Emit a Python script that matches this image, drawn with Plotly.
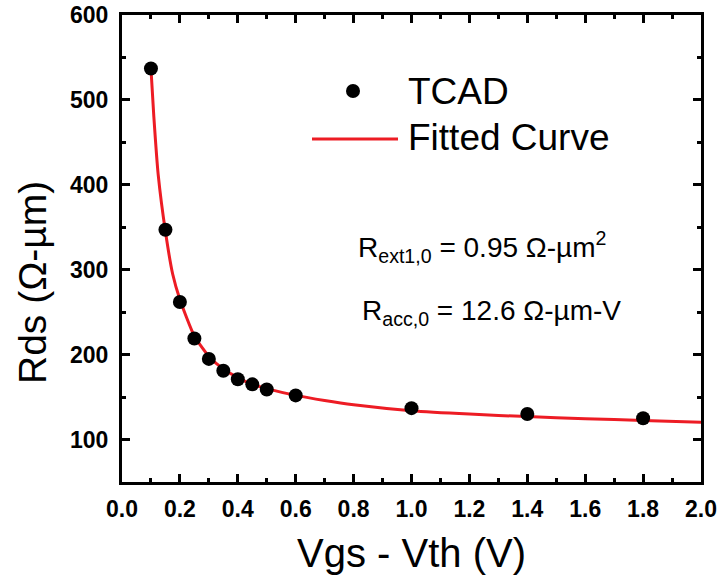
import plotly.graph_objects as go

# TCAD simulation points
vov_tcad = [0.1, 0.15, 0.2, 0.25, 0.3, 0.35, 0.4, 0.45, 0.5, 0.6, 1.0, 1.4, 1.8]
rds_tcad = [537, 347, 262, 219, 195, 181, 171, 165, 159, 152, 137, 130, 125]

# Fitted model curve samples
vov_fit = [0.1, 0.11, 0.125, 0.15, 0.175, 0.2, 0.25, 0.3, 0.35, 0.4, 0.45, 0.5,
           0.6, 0.7, 0.8, 1.0, 1.2, 1.4, 1.6, 1.8, 2.0]
rds_fit = [537, 480, 412, 345, 295, 265, 222, 198, 183, 173, 165, 160,
           152, 146, 141, 134, 130, 127, 124.5, 122.5, 120.5]

x_ticks = [0.0, 0.2, 0.4, 0.6, 0.8, 1.0, 1.2, 1.4, 1.6, 1.8, 2.0]
y_ticks = [100, 200, 300, 400, 500, 600]

FONT = "Liberation Sans, Arial, sans-serif"
RED = "#ed1c24"

W, H = 719, 580
ML, MR, MT, MB = 122, 18, 15, 98
PW, PH = W - ML - MR, H - MT - MB


def px(x):
    return (x - ML) / PW


def py(y):
    return (H - MB - y) / PH


fig = go.Figure()
fig.add_trace(go.Scatter(
    x=vov_fit, y=rds_fit, mode="lines", name="Fitted Curve",
    line=dict(color=RED, width=3, shape="spline", smoothing=0.6),
    showlegend=False,
))
fig.add_trace(go.Scatter(
    x=vov_tcad, y=rds_tcad, mode="markers", name="TCAD",
    marker=dict(color="black", size=14),
    showlegend=False,
))

axis_common = dict(
    showline=True, linecolor="black", linewidth=3, mirror="ticks",
    ticks="inside", ticklen=8, tickwidth=2.5, tickcolor="black",
    showgrid=False, zeroline=False, automargin=False,
    tickfont=dict(family=FONT, size=23, color="black", weight="bold"),
)

fig.update_xaxes(
    range=[0, 2.0], tickvals=x_ticks, ticktext=[f"{v:.1f}" for v in x_ticks],
    minor=dict(ticks="inside", ticklen=4, tickwidth=2.5, dtick=0.1, tick0=0, tickcolor="black"),
    ticklabelstandoff=4,
    **axis_common,
)
fig.update_yaxes(
    range=[50, 600], tickvals=y_ticks,
    minor=dict(ticks="inside", ticklen=4, tickwidth=2.5, dtick=50, tick0=0, tickcolor="black"),
    ticklabelstandoff=6,
    **axis_common,
)

# Legend drawn by hand: marker sample, line sample and labels
shapes = [
    dict(type="circle", xref="paper", yref="paper",
         x0=px(346), x1=px(360), y0=py(98), y1=py(84),
         fillcolor="black", line=dict(color="black", width=0)),
    dict(type="line", xref="paper", yref="paper",
         x0=px(312), x1=px(398), y0=py(139), y1=py(139),
         line=dict(color=RED, width=3)),
]
annotations = [
    # axis titles
    dict(text="Vgs - Vth (V)", x=px(411.5), y=py(553), xref="paper", yref="paper",
         xanchor="center", yanchor="middle", showarrow=False,
         font=dict(family=FONT, size=40, color="black")),
    dict(text="Rds (Ω-µm)", x=px(32), y=py(283), xref="paper", yref="paper",
         xanchor="center", yanchor="middle", showarrow=False, textangle=-90,
         font=dict(family=FONT, size=39, color="black")),
    # legend labels
    dict(text="TCAD", x=px(406), y=py(91), xref="paper", yref="paper",
         xanchor="left", yanchor="middle", showarrow=False,
         font=dict(family=FONT, size=37, color="black")),
    dict(text="Fitted Curve", x=px(406), y=py(137), xref="paper", yref="paper",
         xanchor="left", yanchor="middle", showarrow=False,
         font=dict(family=FONT, size=37, color="black")),
    # fitted parameters
    dict(text="R<sub>ext1,0</sub> = 0.95 Ω-µm<sup>2</sup>", x=px(356), y=py(247),
         xref="paper", yref="paper", xanchor="left", yanchor="middle", showarrow=False,
         font=dict(family=FONT, size=28, color="black")),
    dict(text="R<sub>acc,0</sub> = 12.6 Ω-µm-V", x=px(360), y=py(313),
         xref="paper", yref="paper", xanchor="left", yanchor="middle", showarrow=False,
         font=dict(family=FONT, size=28, color="black")),
]

fig.update_layout(
    width=W, height=H,
    margin=dict(l=ML, r=MR, t=MT, b=MB, autoexpand=False),
    paper_bgcolor="white", plot_bgcolor="white",
    shapes=shapes, annotations=annotations,
    showlegend=False,
)

fig.write_html("out.html")
